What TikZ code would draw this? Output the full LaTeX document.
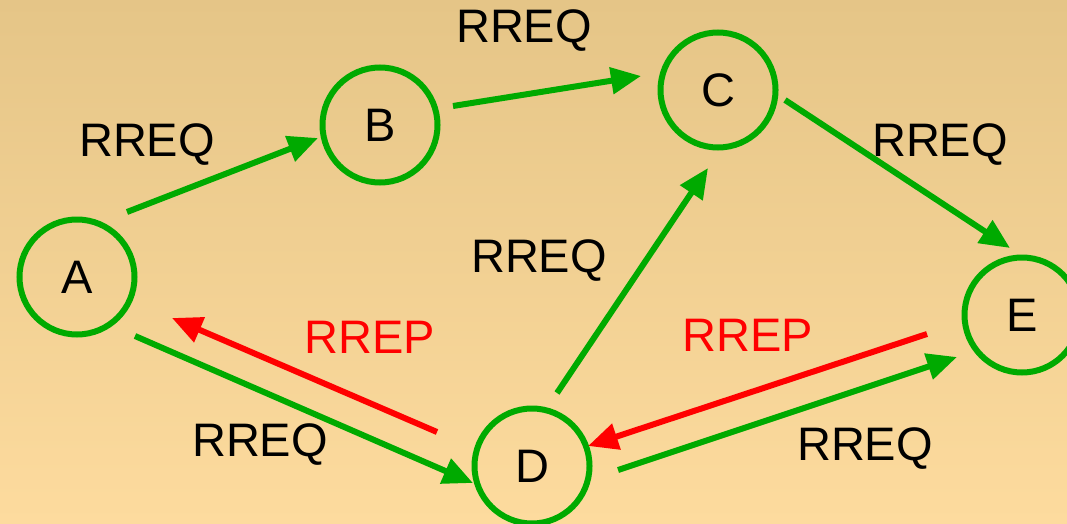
\documentclass[tikz,border=0pt]{standalone}
\usepackage{fontspec}
\setmainfont{Liberation Sans}
\usetikzlibrary{arrows.meta}
\definecolor{grn}{RGB}{0,170,0}
\definecolor{bgtop}{RGB}{229,197,135}
\definecolor{bgbot}{RGB}{253,219,158}
\tikzset{
  station/.style={circle, draw=grn, line width=6pt, minimum size=115pt, inner sep=0pt,
    font=\fontsize{47}{56}\selectfont},
  req/.style={draw=grn, line width=6pt, -{Triangle[length=30pt,width=26pt]}},
  rep/.style={draw=red, line width=6pt, -{Triangle[length=30pt,width=26pt]}},
  lbl/.style={font=\fontsize{47}{56}\selectfont, inner sep=0pt},
}
\begin{document}
\begin{tikzpicture}[x=1pt,y=-1pt]
\shade[top color=bgtop, bottom color=bgbot] (0,0) rectangle (1067,524);
\useasboundingbox (0,0) rectangle (1067,524);
\node[station] (A) at (77,277) {A};
\node[station] (B) at (380,125) {B};
\node[station] (C) at (718,90) {C};
\node[station] (D) at (532,466) {D};
\node[station] (E) at (1022,315) {E};
\draw[req] ([shift={(50,-65)}]A.center) -- ([shift={(-62,13)}]B.center);
\draw[req] ([shift={(73,-19)}]B.center) -- ([shift={(-77,-14)}]C.center);
\draw[req] ([shift={(67,10)}]C.center) -- ([shift={(-12,-67)}]E.center);
\draw[req] ([shift={(58,59)}]A.center) -- ([shift={(-59,17)}]D.center);
\draw[req] ([shift={(25,-73)}]D.center) -- ([shift={(-10,78)}]C.center);
\draw[rep] ([shift={(-95,-34)}]D.center) -- ([shift={(95,41)}]A.center);
\draw[rep] ([shift={(-95,19)}]E.center) -- ([shift={(56,-20)}]D.center);
\draw[req] ([shift={(86,4)}]D.center) -- ([shift={(-65,42)}]E.center);
\node[lbl] (l1) at (524,31) {RREQ};
\node[lbl] (l2) at (147,145) {RREQ};
\node[lbl] (l3) at (940,145) {RREQ};
\node[lbl] (l4) at (539,261) {RREQ};
\node[lbl, text=red] (l5) at (370,337) {RREP};
\node[lbl] (l6) at (260,445) {RREQ};
\node[lbl, text=red] (l7) at (748,335) {RREP};
\node[lbl] (l8) at (865,449) {RREQ};
\end{tikzpicture}
\end{document}
